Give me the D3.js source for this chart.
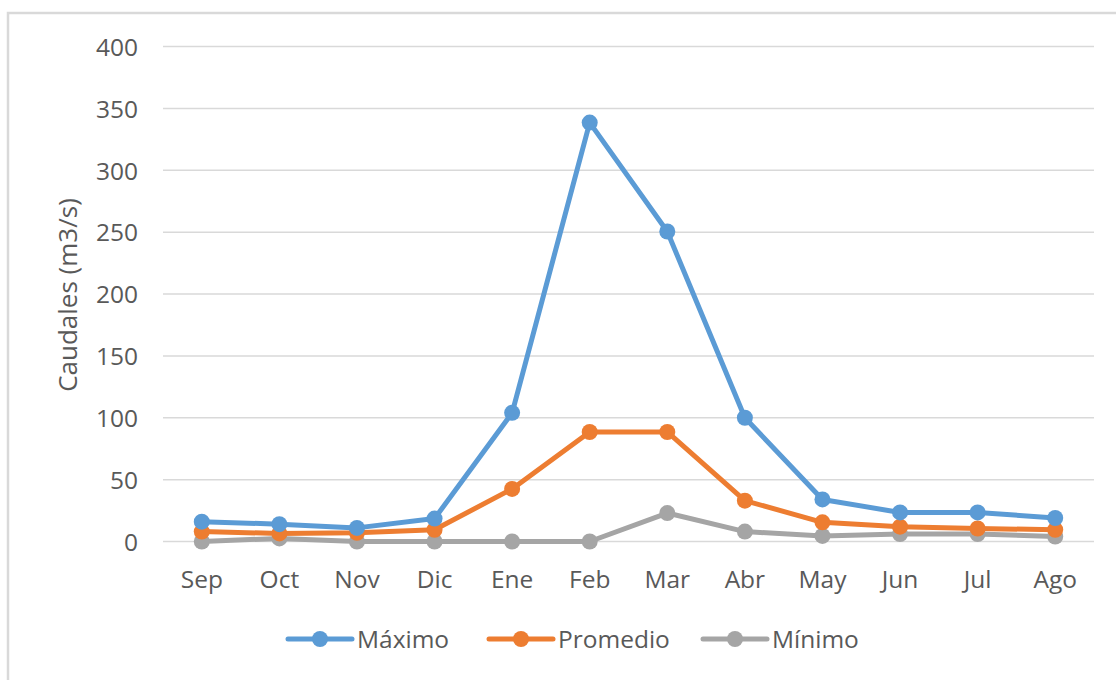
<!DOCTYPE html>
<html>
<head>
<meta charset="utf-8">
<script src="https://cdn.jsdelivr.net/npm/d3@7"></script>
<style>
  html, body { margin: 0; padding: 0; background: #fff; }
  svg { display: block; }
</style>
</head>
<body>
<svg id="chart" width="1116" height="680"></svg>
<script>
// Monthly flows (m3/s), hydrological year Sep–Ago
const months = ["Sep", "Oct", "Nov", "Dic", "Ene", "Feb", "Mar", "Abr", "May", "Jun", "Jul", "Ago"];
const maximo   = [16, 14, 11, 18.5, 104, 338.5, 250.5, 100, 34, 23.5, 23.5, 19];
const promedio = [8, 6.5, 7, 9.5, 42.5, 88.5, 88.5, 33, 15.5, 12, 10.5, 9.5];
const minimo   = [0, 2.5, 0, 0, 0, 0, 23, 8, 4.5, 6, 6, 4];
const yTicks = [0, 50, 100, 150, 200, 250, 300, 350, 400];

const series = [
  { name: "Máximo",   values: maximo,   color: "#5B9BD5" },
  { name: "Promedio", values: promedio, color: "#ED7D31" },
  { name: "Mínimo",   values: minimo,   color: "#A5A5A5" }
];

const font = "'Open Sans', sans-serif";
const textColor = "#595959";
const fs = 24.5;

const svg = d3.select("#chart");

// outer chart frame
svg.append("rect")
  .attr("x", 8).attr("y", 13)
  .attr("width", 1130).attr("height", 700)
  .attr("fill", "#fff")
  .attr("stroke", "#d9d9d9").attr("stroke-width", 2.5);

const plot = { left: 163, right: 1094, top: 46.5, bottom: 541.5 };

const x = d3.scaleBand().domain(months).range([plot.left, plot.right]);
const y = d3.scaleLinear().domain([0, 400]).range([plot.bottom, plot.top]);

// horizontal gridlines
svg.append("g")
  .selectAll("line")
  .data(yTicks)
  .join("line")
  .attr("x1", plot.left).attr("x2", plot.right)
  .attr("y1", d => y(d)).attr("y2", d => y(d))
  .attr("stroke", "#d9d9d9").attr("stroke-width", 1.5);

// y axis labels
const yAxis = d3.axisLeft(y).tickValues(yTicks).tickSize(0).tickPadding(0);
const gy = svg.append("g").attr("transform", `translate(${plot.left - 25},0)`).call(yAxis);
gy.select(".domain").remove();
gy.selectAll("text")
  .attr("font-family", font).attr("font-size", fs).attr("fill", textColor)
  .attr("dy", "0.36em");

// x axis labels
const xAxis = d3.axisBottom(x).tickSize(0).tickPadding(0);
const gx = svg.append("g").attr("transform", `translate(0,${plot.bottom})`).call(xAxis);
gx.select(".domain").remove();
gx.selectAll("text")
  .attr("font-family", font).attr("font-size", fs).attr("fill", textColor)
  .attr("y", 46).attr("dy", 0);

// y axis title
svg.append("text")
  .attr("transform", `translate(77,295) rotate(-90)`)
  .attr("text-anchor", "middle")
  .attr("font-family", font).attr("font-size", 26).attr("fill", textColor)
  .text("Caudales (m3/s)");

const line = d3.line()
  .x((d, i) => x(months[i]) + x.bandwidth() / 2)
  .y(d => y(d));

// draw series in reverse so Máximo sits on top
const drawOrder = series.slice().reverse();
drawOrder.forEach(s => {
  const g = svg.append("g");
  g.append("path")
    .attr("d", line(s.values))
    .attr("fill", "none")
    .attr("stroke", s.color).attr("stroke-width", 5)
    .attr("stroke-linejoin", "round").attr("stroke-linecap", "round");
  g.selectAll("circle")
    .data(s.values)
    .join("circle")
    .attr("cx", (d, i) => x(months[i]) + x.bandwidth() / 2)
    .attr("cy", d => y(d))
    .attr("r", 8)
    .attr("fill", s.color);
});

// legend
const legendItems = [
  { s: series[0], x0: 288 },
  { s: series[1], x0: 489 },
  { s: series[2], x0: 703 }
];
const ly = 639;
legendItems.forEach(({ s, x0 }) => {
  const g = svg.append("g");
  g.append("line")
    .attr("x1", x0).attr("x2", x0 + 64)
    .attr("y1", ly).attr("y2", ly)
    .attr("stroke", s.color).attr("stroke-width", 5).attr("stroke-linecap", "round");
  g.append("circle")
    .attr("cx", x0 + 32).attr("cy", ly).attr("r", 8).attr("fill", s.color);
  g.append("text")
    .attr("x", x0 + 69).attr("y", ly).attr("dy", "0.36em")
    .attr("font-family", font).attr("font-size", fs).attr("fill", textColor)
    .text(s.name);
});
</script>
</body>
</html>
